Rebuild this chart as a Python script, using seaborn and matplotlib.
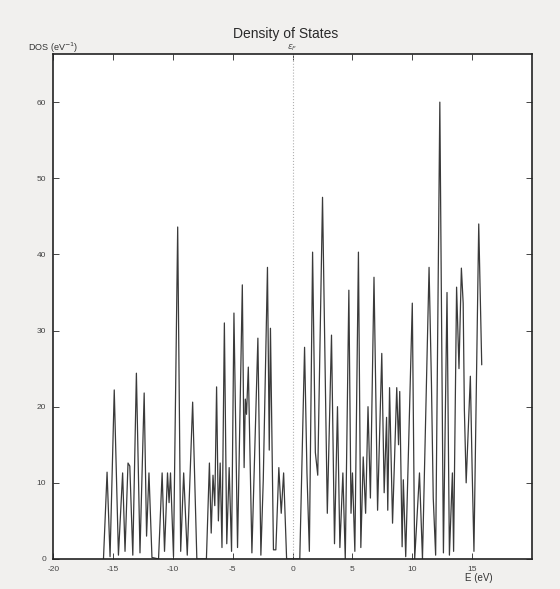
# densidad de estados (DOS)
import seaborn as sns
import matplotlib.pyplot as plt

# energía (eV) y DOS (1/eV) en los vértices de la curva (máximos y mínimos)
energy_left = [-15.8, -15.5, -15.25, -14.9, -14.55, -14.2, -14.0, -13.75, -13.6, -13.35,
               -13.05, -12.75, -12.4, -12.2, -12.0, -11.75, -11.2, -10.9, -10.7, -10.45,
               -10.32, -10.2, -9.95, -9.6, -9.35, -9.1, -8.8, -8.35, -8.0, -7.2,
               -6.95, -6.8, -6.65, -6.5, -6.35, -6.2, -6.05, -5.9, -5.7, -5.5,
               -5.3, -5.1, -4.9, -4.6, -4.2, -4.05, -3.95, -3.85, -3.7, -3.4,
               -2.9, -2.65, -2.45, -2.1, -1.95, -1.85, -1.6, -1.4, -1.15, -0.95,
               -0.75, -0.5]
dos_left = [0, 11.4, 0.3, 22.2, 0.5, 11.3, 1, 12.6, 12.2, 0.5,
            24.4, 0.8, 21.8, 3, 11.3, 0.2, 0, 11.3, 1, 11.3,
            7.4, 11.3, 0.3, 43.6, 1, 11.3, 0.5, 20.6, 0, 0,
            12.6, 3.4, 11, 7, 22.6, 5, 12.6, 1.5, 31, 2,
            12, 1, 32.3, 1.5, 36, 12, 21, 19, 25.2, 0.8,
            29, 0.5, 10.4, 38.3, 14.3, 30.3, 1.2, 1.2, 12, 6,
            11.3, 0]

energy_right = [0.6, 1.0, 1.2, 1.4, 1.67, 1.9, 2.1, 2.5, 2.9, 3.25,
                3.5, 3.75, 3.95, 4.2, 4.4, 4.7, 4.88, 5.0, 5.2, 5.5,
                5.7, 5.9, 6.1, 6.3, 6.5, 6.8, 7.1, 7.45, 7.65, 7.85,
                7.95, 8.1, 8.35, 8.7, 8.85, 8.95, 9.15, 9.25, 9.45, 10.0,
                10.2, 10.6, 10.85, 11.4, 11.6, 11.75, 11.95, 12.3, 12.6, 12.9,
                13.1, 13.35, 13.45, 13.7, 13.9, 14.1, 14.25, 14.35, 14.5, 14.85,
                15.0, 15.15, 15.55, 15.8]
dos_right = [0, 27.8, 11.3, 1, 40.3, 14, 11, 47.5, 6, 29.4,
             2, 20, 1.5, 11.3, 0, 35.3, 6, 11.3, 1, 40.3,
             1.5, 13.4, 6, 20, 8, 37, 6.4, 27, 8.7, 18.6,
             6.4, 22.5, 4.7, 22.5, 15, 22, 1.6, 10.4, 0.3, 33.6,
             0, 11.3, 0, 38.3, 23, 8, 0.5, 60, 0.8, 35,
             0.5, 11.3, 1, 35.7, 25, 38.2, 33.6, 19.6, 10, 24,
             11.7, 1, 44, 25.5]

energy = energy_left + energy_right
dos = dos_left + dos_right

x_ticks = [-20, -15, -10, -5, 0, 5, 10, 15]
y_ticks = [0, 10, 20, 30, 40, 50, 60]

sns.set_style("ticks")
plt.rcParams['font.family'] = ['Liberation Sans', 'DejaVu Sans']
plt.rcParams['axes.unicode_minus'] = False

fig = plt.figure(figsize=(5.6, 5.89), dpi=100, facecolor='#f1f0ee')
ax = fig.add_axes([0.095, 0.051, 0.855, 0.857])
ax.set_facecolor('white')

# nivel de Fermi
ax.axvline(0, color='#b0b0b0', lw=0.8, ls=':', zorder=1)

sns.lineplot(x=energy, y=dos, ax=ax, sort=False, estimator=None,
             color='#3a3a3a', lw=0.9, zorder=2)

ax.set_xlim(-20, 20)
ax.set_ylim(0, 66.3)
ax.set_xticks(x_ticks)
ax.set_yticks(y_ticks)
ax.tick_params(direction='in', length=4, width=0.7, top=True, right=True,
               labelsize=6, labelcolor='#444444', color='#444444', pad=5)
for s in ax.spines.values():
    s.set_color('#222222')
    s.set_linewidth(1.2)
ax.set_xlabel('')
ax.set_ylabel('')

fig.text(0.51, 0.943, 'Density of States', ha='center', va='center',
         fontsize=10, color='#2a2a2a', fontweight='medium')
fig.text(0.05, 0.919, 'DOS (eV$^{-1}$)', ha='left', va='center',
         fontsize=6.5, color='#333333')
fig.text(0.522, 0.919, r'$\varepsilon_F$', ha='center', va='center',
         fontsize=6.5, color='#555555')
fig.text(0.855, 0.019, 'E (eV)', ha='center', va='center',
         fontsize=7, color='#333333')

plt.savefig('out.png', dpi=100, facecolor=fig.get_facecolor())
